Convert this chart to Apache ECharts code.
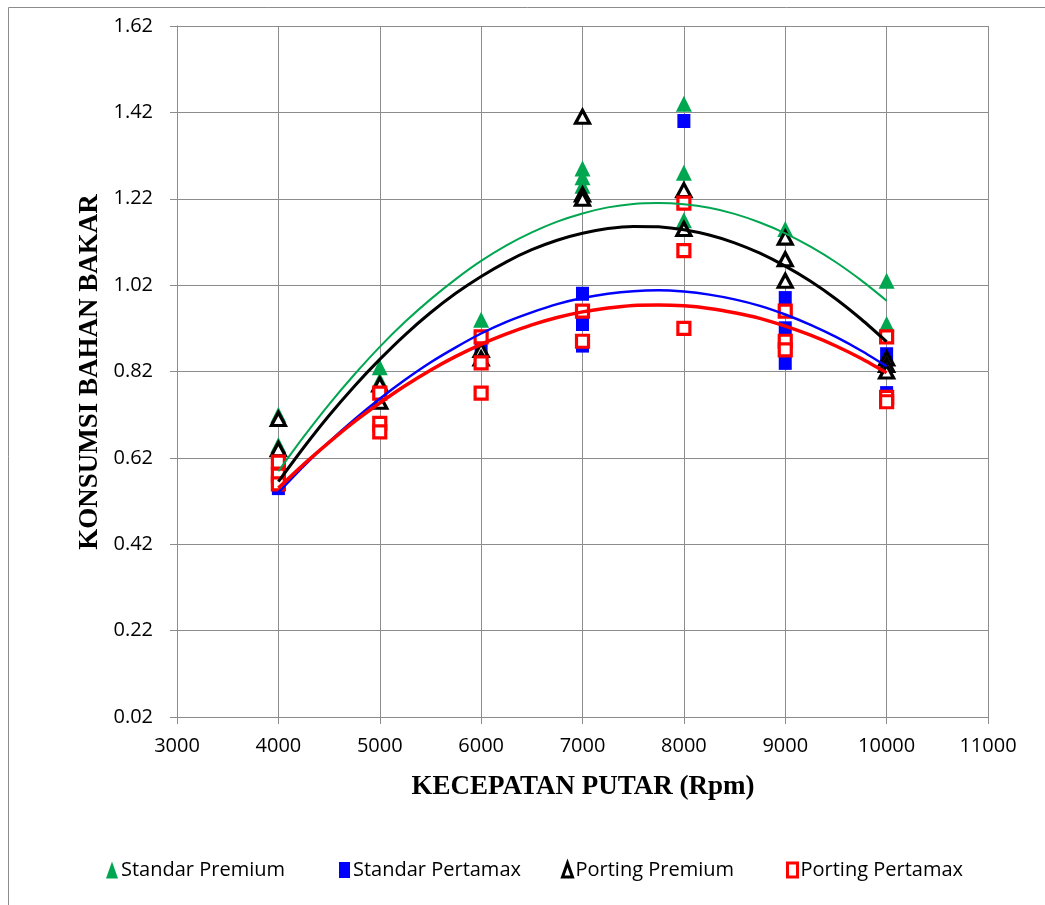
<!DOCTYPE html>
<html>
<head>
<meta charset="utf-8">
<script src="https://cdn.jsdelivr.net/npm/echarts@6/dist/echarts.min.js"></script>
<style>
html,body{margin:0;padding:0;background:#fff;}
#chart{width:1045px;height:905px;}
</style>
</head>
<body>
<div id="chart"></div>
<script>
// Data (values per rpm; each rpm may hold several measurements)
const rpm = [4000, 5000, 6000, 7000, 8000, 9000, 10000];
const standarPremium = [[0.72, 0.65], [0.83, 0.80], [0.94], [1.29, 1.27, 1.25], [1.44, 1.28, 1.17], [1.15], [1.03, 0.93]];
const standarPertamax = [[0.60, 0.57, 0.55], [0.77, 0.70, 0.68], [0.90, 0.87, 0.84], [1.00, 0.93, 0.88], [1.40, 1.10, 0.92], [0.99, 0.92, 0.84], [0.86, 0.77]];
const portingPremium = [[0.71, 0.64], [0.79, 0.75], [0.87, 0.85], [1.41, 1.23, 1.22], [1.24, 1.15], [1.13, 1.08, 1.03], [0.85, 0.835, 0.82]];
const portingPertamax = [[0.61, 0.58, 0.56], [0.77, 0.70, 0.68], [0.90, 0.84, 0.77], [0.96, 0.89], [1.21, 1.10, 0.92], [0.96, 0.89, 0.87], [0.90, 0.76, 0.75]];

// Trend lines
const trendRpm = [4000, 4250, 4500, 4750, 5000, 5250, 5500, 5750, 6000, 6250, 6500, 6750, 7000,
                  7250, 7500, 7750, 8000, 8250, 8500, 8750, 9000, 9250, 9500, 9750, 10000];
const trendStandarPremium = [0.589, 0.669, 0.744, 0.813, 0.877, 0.935, 0.987, 1.034, 1.076, 1.112, 1.142, 1.167, 1.186,
                             1.200, 1.208, 1.210, 1.207, 1.199, 1.185, 1.165, 1.140, 1.109, 1.073, 1.031, 0.984];
const trendStandarPertamax = [0.540, 0.601, 0.657, 0.709, 0.757, 0.801, 0.841, 0.876, 0.908, 0.935, 0.957, 0.976, 0.990,
                              1.000, 1.006, 1.008, 1.005, 0.998, 0.987, 0.972, 0.952, 0.928, 0.900, 0.868, 0.832];
const trendPortingPremium = [0.565, 0.644, 0.718, 0.786, 0.848, 0.905, 0.956, 1.001, 1.040, 1.074, 1.102, 1.124, 1.140,
                             1.151, 1.156, 1.155, 1.148, 1.136, 1.118, 1.094, 1.064, 1.029, 0.988, 0.941, 0.889];
const trendPortingPertamax = [0.550, 0.605, 0.656, 0.704, 0.747, 0.787, 0.823, 0.855, 0.883, 0.907, 0.928, 0.945, 0.958,
                              0.967, 0.973, 0.974, 0.972, 0.966, 0.956, 0.943, 0.925, 0.904, 0.879, 0.850, 0.817];

const names = ['Standar Premium', 'Standar Pertamax', 'Porting Premium', 'Porting Pertamax'];

function pts(groups) {
  const out = [];
  groups.forEach((vals, i) => vals.forEach(v => out.push([rpm[i], v])));
  return out;
}
function line(vals) { return vals.map((v, i) => [trendRpm[i], v]); }

const GREEN = '#00A650', BLUE = '#0000FF', RED = '#FF0000', BLACK = '#000000';
const labelFont = { fontFamily: 'Open Sans', fontSize: 20, color: '#000' };

const chart = echarts.init(document.getElementById('chart'), null, { renderer: 'canvas' });

function legendAt(left, name, icon, w, h, style) {
  return {
    data: [{ name: name, icon: icon, itemStyle: style }],
    left: left, top: 855, itemWidth: w, itemHeight: h, itemGap: 0,
    textStyle: { fontFamily: 'Open Sans', fontSize: 20, color: '#000', padding: [0, 0, 0, -2] },
    selectedMode: false
  };
}

chart.setOption({
  animation: false,
  backgroundColor: '#fff',
  grid: { left: 177, right: 57, top: 26, bottom: 188 },
  xAxis: {
    type: 'value', min: 3000, max: 11000, interval: 1000,
    axisLine: { show: true, lineStyle: { color: '#8c8c8c', width: 1 } },
    axisTick: { show: true, length: 7, inside: false, lineStyle: { color: '#8c8c8c' } },
    splitLine: { show: true, lineStyle: { color: '#8c8c8c', width: 1 } },
    axisLabel: Object.assign({ margin: 19, formatter: v => String(Math.round(v)) }, labelFont)
  },
  yAxis: {
    type: 'value', min: 0.02, max: 1.62, interval: 0.2,
    axisLine: { show: true, lineStyle: { color: '#8c8c8c', width: 1 } },
    axisTick: { show: true, length: 7, lineStyle: { color: '#8c8c8c' } },
    splitLine: { show: true, lineStyle: { color: '#8c8c8c', width: 1 } },
    axisLabel: Object.assign({ margin: 24, formatter: v => v.toFixed(2) }, labelFont)
  },
  legend: [
    legendAt(101, names[0], 'triangle', 12, 17, { color: GREEN, borderWidth: 0 }),
    legendAt(334, names[1], 'rect', 11, 16, { color: BLUE, borderWidth: 0 }),
    legendAt(556, names[2], 'triangle', 10, 14, { color: '#fff', borderColor: BLACK, borderWidth: 3 }),
    legendAt(781, names[3], 'rect', 10, 14, { color: '#fff', borderColor: RED, borderWidth: 3 })
  ],
  graphic: [
    { type: 'rect', shape: { x: 8.5, y: 7.5, width: 1100, height: 1000 }, style: { fill: null, stroke: '#8c8c8c', lineWidth: 1 }, z: -10 },
    { type: 'text', x: 583, y: 787, style: { text: 'KECEPATAN PUTAR (Rpm)', font: 'bold 27px "Liberation Serif"', fill: '#000', textAlign: 'center', textVerticalAlign: 'middle' } },
    { type: 'text', x: 90, y: 372, rotation: Math.PI / 2, style: { text: 'KONSUMSI BAHAN BAKAR', font: 'bold 27px "Liberation Serif"', fill: '#000', textAlign: 'center', textVerticalAlign: 'middle' } }
  ],
  series: [
    { name: names[0], type: 'scatter', data: pts(standarPremium), symbol: 'triangle', symbolSize: [16, 16],
      itemStyle: { color: GREEN, opacity: 1 }, z: 2 },
    { name: names[1], type: 'scatter', data: pts(standarPertamax), symbol: 'rect', symbolSize: [13, 14],
      itemStyle: { color: BLUE, opacity: 1 }, z: 3 },
    { name: names[2], type: 'scatter', data: pts(portingPremium), symbol: 'triangle', symbolSize: [14, 13],
      itemStyle: { color: '#fff', borderColor: BLACK, borderWidth: 3.2, opacity: 1 }, z: 4 },
    { name: names[3], type: 'scatter', data: pts(portingPertamax), symbol: 'rect', symbolSize: [12, 12],
      itemStyle: { color: '#fff', borderColor: RED, borderWidth: 3.2, opacity: 1 }, z: 5 },
    { name: 'tSP', type: 'line', data: line(trendStandarPremium), smooth: 0.25, showSymbol: false, silent: true,
      lineStyle: { color: GREEN, width: 2 }, z: 6 },
    { name: 'tSX', type: 'line', data: line(trendStandarPertamax), smooth: 0.25, showSymbol: false, silent: true,
      lineStyle: { color: BLUE, width: 2.5 }, z: 6 },
    { name: 'tPP', type: 'line', data: line(trendPortingPremium), smooth: 0.25, showSymbol: false, silent: true,
      lineStyle: { color: BLACK, width: 3 }, z: 6 },
    { name: 'tPX', type: 'line', data: line(trendPortingPertamax), smooth: 0.25, showSymbol: false, silent: true,
      lineStyle: { color: RED, width: 3.5 }, z: 6 }
  ]
});
</script>
</body>
</html>
